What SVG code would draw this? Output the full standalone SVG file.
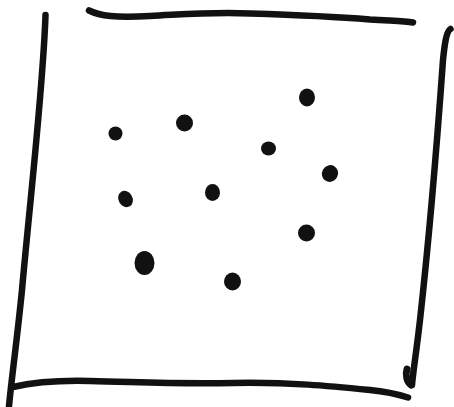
<svg xmlns="http://www.w3.org/2000/svg" width="454" height="407" viewBox="0 0 454 407">
<style>
.s{fill:none;stroke:#111;stroke-width:6.5;stroke-linecap:round;stroke-linejoin:round}
.d{fill:#111}
</style>
<rect width="454" height="407" fill="#fff"/>
<g id="frame">
<path class="s" d="M45.5,15 C43,90 30,200 22,290 C17,340 12,375 9,406"/>
<path class="s" d="M89,10.5 C100,16 115,18 150,16 C190,14 210,12 250,13.5 C300,15 340,17 370,19.5 C395,21 405,21 413,22.5"/>
<path class="s" d="M450.5,29 C447,31 445,40 443,60 C438,130 430,230 420,320 C416,355 413,372 412,385"/>
<path class="s" d="M407,369 C405,375 407,382 411,385" style="stroke-width:7"/>
<path class="s" d="M13,387 C30,383 50,380 90,381 C140,382 170,384 233,383 C290,382 330,386 370,390 C390,392 400,395 408,397.5" />
</g>
<g id="dots">
<ellipse class="d" cx="115.5" cy="133.5" rx="7" ry="7"/>
<ellipse class="d" cx="184.5" cy="123" rx="8.5" ry="8.5"/>
<ellipse class="d" cx="307" cy="97.5" rx="8" ry="9"/>
<ellipse class="d" cx="268.5" cy="148.5" rx="7.5" ry="7"/>
<ellipse class="d" cx="330" cy="173.5" rx="8" ry="8.5" transform="rotate(30 330 173.5)"/>
<ellipse class="d" cx="125.5" cy="199" rx="7" ry="8.5" transform="rotate(-30 125.5 199)"/>
<ellipse class="d" cx="212.5" cy="192.5" rx="7.5" ry="8.5"/>
<ellipse class="d" cx="306.5" cy="233" rx="8.5" ry="8.5"/>
<ellipse class="d" cx="144.5" cy="263" rx="10" ry="12"/>
<ellipse class="d" cx="232.5" cy="281.5" rx="8.5" ry="9"/>
</g>
</svg>
